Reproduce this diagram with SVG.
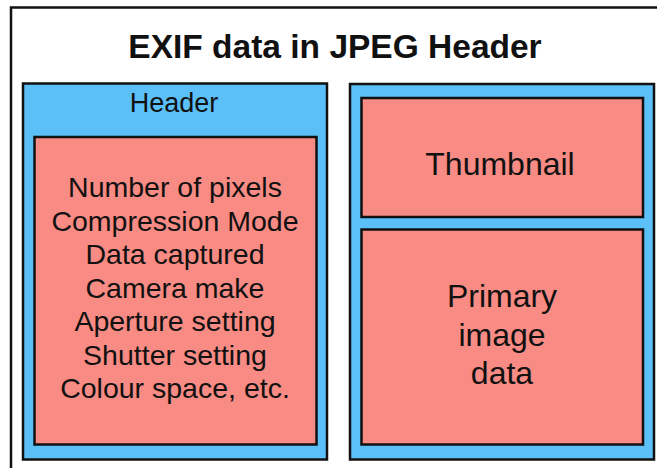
<svg xmlns="http://www.w3.org/2000/svg" width="657" height="468" viewBox="0 0 657 468">
  <style>
    .blue { fill: #5bbff8; stroke: #111; stroke-width: 2.5; }
    .red { fill: #f88b83; stroke: #111; stroke-width: 2.5; }
    text { font-family: "Liberation Sans", Arial, sans-serif; fill: #111; text-anchor: middle; }
    .title { font-size: 33.5px; font-weight: bold; }
    .hdr { font-size: 27px; }
    .lbl { font-size: 28.5px; }
    .big { font-size: 32px; }
  </style>
  <rect width="657" height="468" fill="#fff"/>
  <!-- outer frame, runs past the right and bottom edges -->
  <rect x="11" y="7.5" width="700" height="500" fill="none" stroke="#111" stroke-width="2.5"/>
  <text class="title" x="335" y="58">EXIF data in JPEG Header</text>

  <g id="header">
    <rect class="blue" x="23" y="83.5" width="304" height="376"/>
    <text class="hdr" x="174" y="112">Header</text>
  </g>
  <g id="fields">
    <rect class="red" x="34.5" y="137" width="282" height="307.5"/>
    <text class="lbl" x="175" y="197">Number of pixels</text>
    <text class="lbl" x="175" y="230.5">Compression Mode</text>
    <text class="lbl" x="175" y="264">Data captured</text>
    <text class="lbl" x="175" y="297.5">Camera make</text>
    <text class="lbl" x="175" y="331">Aperture setting</text>
    <text class="lbl" x="175" y="364.5">Shutter setting</text>
    <text class="lbl" x="175" y="398">Colour space, etc.</text>
  </g>
  <g id="image-block">
    <rect class="blue" x="350" y="84" width="304" height="375.5"/>
  </g>
  <g id="thumbnail">
    <rect class="red" x="361.5" y="98" width="281.5" height="119"/>
    <text class="big" x="500" y="175">Thumbnail</text>
  </g>
  <g id="primary">
    <rect class="red" x="361.5" y="229.5" width="281.5" height="215"/>
    <text class="big" x="502" y="307">Primary</text>
    <text class="big" x="502" y="345.5">image</text>
    <text class="big" x="502" y="384">data</text>
  </g>
  <g id="connectors"/>
</svg>
